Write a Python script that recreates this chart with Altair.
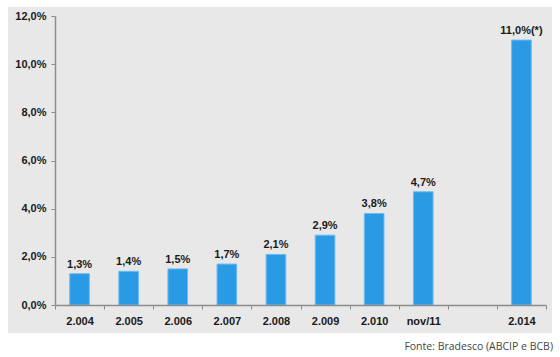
import altair as alt
import pandas as pd

categories = ["2.004", "2.005", "2.006", "2.007", "2.008", "2.009", "2.010", "nov/11", "2.014"]
values = [1.3, 1.4, 1.5, 1.7, 2.1, 2.9, 3.8, 4.7, 11.0]
labels = ["1,3%", "1,4%", "1,5%", "1,7%", "2,1%", "2,9%", "3,8%", "4,7%", "11,0%(*)"]
axis_domain = ["2.004", "2.005", "2.006", "2.007", "2.008", "2.009", "2.010", "nov/11", " ", "2.014"]
y_ticks = [0, 2, 4, 6, 8, 10, 12]
source_text = "Fonte: Bradesco (ABCIP e BCB)"

df = pd.DataFrame({"cat": categories, "val": values, "lab": labels})

FONT = "Liberation Sans"

x_enc = alt.X(
    "cat:N",
    scale=alt.Scale(domain=axis_domain, paddingInner=0, paddingOuter=0),
    axis=alt.Axis(
        title=None, labelAngle=0, tickBand="extent", labelFont=FONT, labelFontWeight="bold",
        labelFontSize=11, labelColor="#1a1a1a", labelPadding=6, tickSize=4,
        domainColor="#8c8c8c", tickColor="#8c8c8c", domainWidth=1.5, tickWidth=1, zindex=1,
    ),
)
y_enc = alt.Y(
    "val:Q",
    scale=alt.Scale(domain=[0, 12], nice=False),
    axis=alt.Axis(
        title=None, values=y_ticks, grid=False,
        labelExpr="replace(format(datum.value, '.1f'), '.', ',') + '%'",
        labelFont=FONT, labelFontWeight="bold", labelFontSize=11, labelColor="#1a1a1a",
        labelPadding=5, tickSize=4, domainColor="#8c8c8c", tickColor="#8c8c8c",
        domainWidth=1.5, tickWidth=1, zindex=1,
    ),
)

panel = alt.Chart(pd.DataFrame({"a": [0]})).mark_rect(color="#e8e8e8").encode(
    x=alt.value(-47), x2=alt.value(497), y=alt.value(-9), y2=alt.value(317)
)

bars = alt.Chart(df).mark_bar(
    color="#2b9ae5", stroke="#6cbcf0", strokeWidth=1, width=alt.RelativeBandSize(0.4)
).encode(x=x_enc, y=y_enc)

texts = alt.Chart(df).mark_text(
    font=FONT, fontWeight="bold", fontSize=11, color="#1a1a1a", baseline="bottom", dy=-4
).encode(x=x_enc, y=y_enc, text="lab:N")

source = alt.Chart(pd.DataFrame({"t": [source_text]})).mark_text(
    font="Open Sans", fontSize=10.5, color="#444444", align="right", baseline="middle"
).encode(x=alt.value(498), y=alt.value(331), text="t:N")

chart = alt.layer(panel, bars, texts, source).properties(
    width=491, height=289,
    autosize=alt.AutoSizeParams(type="none"),
    padding={"left": 55, "top": 16, "right": 14, "bottom": 52},
    background="white",
).configure_view(stroke=None)

chart.save("out.html", embed_options={"renderer": "svg", "actions": False})
